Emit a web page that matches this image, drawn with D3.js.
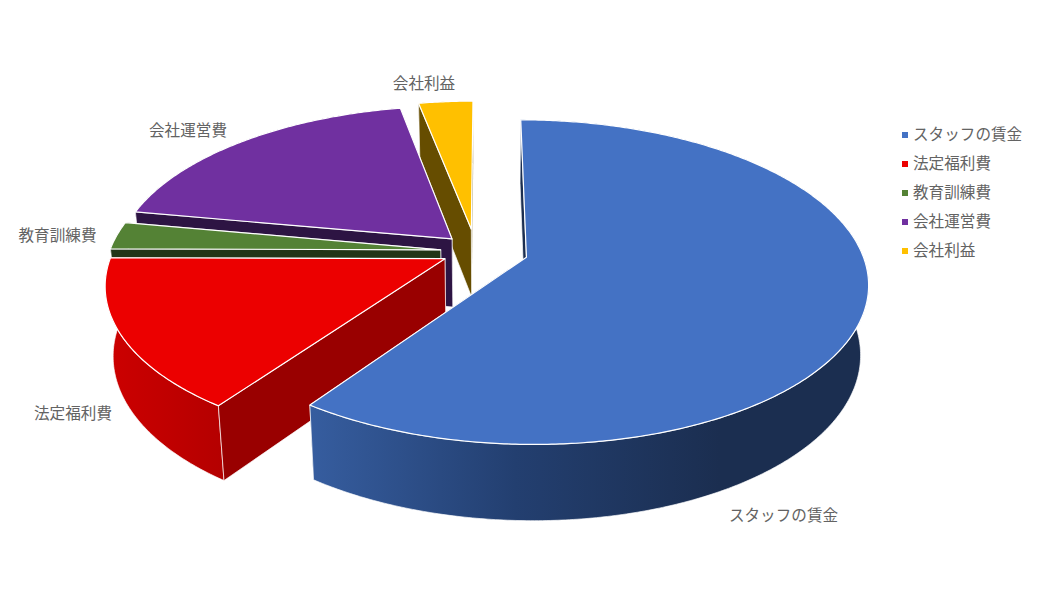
<!DOCTYPE html>
<html><head><meta charset="utf-8">
<script src="https://cdnjs.cloudflare.com/ajax/libs/d3/7.8.5/d3.min.js"></script>
<style>html,body{margin:0;padding:0;background:#fff}svg{display:block}text{font-family:"Noto Sans CJK JP","Noto Sans",sans-serif;fill:#636363;font-size:15.6px}</style>
</head><body><svg id="c" width="1061" height="602"></svg>
<script>
// ---- data ----
const categories = ["スタッフの賃金","法定福利費","教育訓練費","会社運営費","会社利益"];
const values = [59.8, 15.3, 2.8, 19.0, 3.1];
// ---- styles ----
const topColors = ["#4472C4","#EC0000","#548235","#7030A0","#FFC000"];
const wallColors = ["#1B2E50","#990000","#223517","#2D1443","#664D00"];
const W=1061,H=602;
// layout: projection of the pie plane on the screen
const X0=484,Y0=252.5,A=335.5,B=157,K=0.1534,EXPL=0.13;
const nudgeU=[0.002,0,0,-0.004,-0.026], nudgeV=[-0.01,-0.02,-0.005,0.004,-0.022];
const radiusScale=[1,0.992,0.988,1.002,0.98];
const VX=486,SHRINK=0.979;
const labelPos=[[783.5,513.5],[73,411.5],[57.5,233.5],[188,128.5],[424,81.5]];
const legendX=902,legendY=132.5,legendStep=29;

const project=(u,v)=>{const w=1/(1-K*v);return [X0+A*u*w,Y0+B*v*w];};
const extrude=p=>[VX+(p[0]-VX)*SHRINK,p[1]+70.5+(p[1]-300)*0.04];
const svg=d3.select("#c");
const line=d3.line();
const pie=d3.pie().sort(null);
const arcs=pie(values);

const defs=svg.append("defs");
function grad(id,x1,x2,stops){
  const g=defs.append("linearGradient").attr("id",id).attr("gradientUnits","userSpaceOnUse")
    .attr("x1",x1).attr("x2",x2).attr("y1",0).attr("y2",0);
  stops.forEach(s=>g.append("stop").attr("offset",s[0]).attr("stop-color",s[1]));
}
grad("gBlue",311,720,[[0,"#365D9F"],[0.5,"#233F70"],[1,"#1B2E50"]]);
grad("gRed",110,226,[[0,"#CC0000"],[1,"#B40000"]]);
const outerFill=["url(#gBlue)","url(#gRed)",wallColors[2],wallColors[3],wallColors[4]];

const order=[4,3,2,1,0];
order.forEach(i=>{
  const a=arcs[i], mid=(a.startAngle+a.endAngle)/2, r=radiusScale[i];
  const cu=EXPL*Math.sin(mid)+nudgeU[i], cv=-EXPL*Math.cos(mid)+nudgeV[i];
  const n=Math.max(4,Math.ceil((a.endAngle-a.startAngle)/0.01));
  const rim=d3.range(n+1).map(j=>{
    const t=a.startAngle+(a.endAngle-a.startAngle)*j/n;
    return project(cu+r*Math.sin(t),cv-r*Math.cos(t));
  });
  const apex=project(cu,cv);
  const g=svg.append("g");
  const wall=(pts,fill)=>g.append("path").attr("d",line(pts)+"Z").attr("fill",fill)
    .attr("stroke","#fff").attr("stroke-opacity",0.75).attr("stroke-width",0.9).attr("stroke-linejoin","round");
  // end radial wall, outer wall, start radial wall, then the top face
  const s=rim[0], e=rim[rim.length-1];
  wall([apex,e,extrude(e),extrude(apex)],wallColors[i]);
  wall(rim.concat(rim.map(extrude).reverse()),outerFill[i]);
  wall([apex,s,extrude(s),extrude(apex)],wallColors[i]);
  g.append("path").attr("d",line([apex].concat(rim))+"Z").attr("fill",topColors[i])
    .attr("stroke","#fff").attr("stroke-width",1.2).attr("stroke-linejoin","round");
});
// data labels
categories.forEach((c,i)=>{
  svg.append("text").attr("x",labelPos[i][0]).attr("y",labelPos[i][1]).attr("text-anchor","middle")
    .attr("dominant-baseline","central").text(c);
});
// legend
categories.forEach((c,i)=>{
  const y=legendY+i*legendStep;
  svg.append("rect").attr("x",legendX).attr("y",y-0.5).attr("width",6).attr("height",6).attr("fill",topColors[i]);
  svg.append("text").attr("x",legendX+11).attr("y",y).attr("dominant-baseline","central").text(c);
});
</script></body></html>
